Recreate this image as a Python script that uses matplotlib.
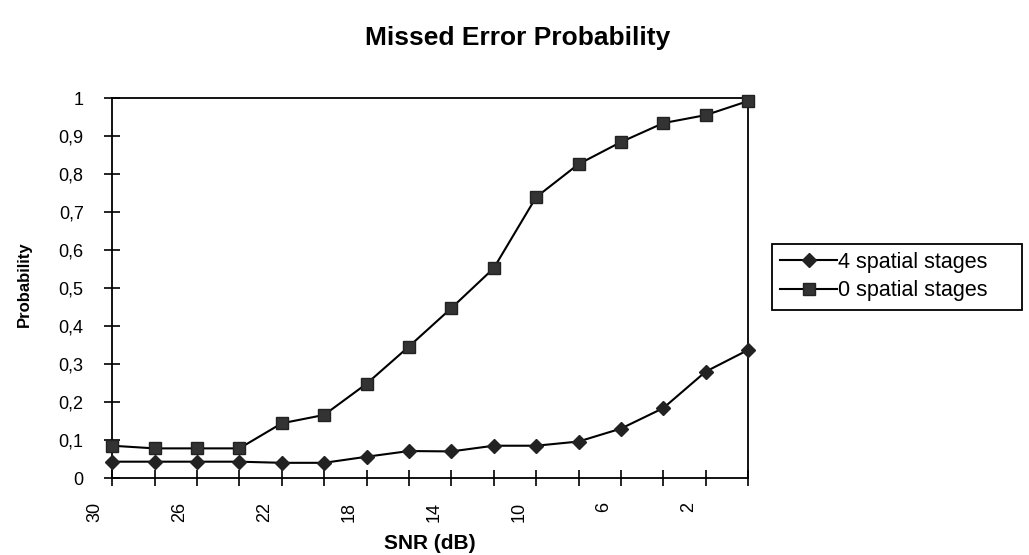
import matplotlib.pyplot as plt
import matplotlib.transforms as mtransforms
from matplotlib.patches import Rectangle
import numpy as np

plt.rcParams['font.family'] = ['Liberation Sans', 'DejaVu Sans']

# SNR in dB
snr = [30, 28, 26, 24, 22, 20, 18, 16, 14, 12, 10, 8, 6, 4, 2, 0]
snr_labels = ['30', '', '26', '', '22', '', '18', '', '14', '', '10', '', '6', '', '2', '']

# missed error probability per configuration
p_4_stages = [0.043, 0.043, 0.043, 0.043, 0.040, 0.040, 0.056, 0.071,
              0.070, 0.085, 0.085, 0.096, 0.130, 0.184, 0.280, 0.337]
p_0_stages = [0.085, 0.078, 0.078, 0.078, 0.144, 0.166, 0.248, 0.346,
              0.447, 0.552, 0.739, 0.826, 0.884, 0.934, 0.955, 0.992]

y_ticks = np.round(np.arange(0, 1.01, 0.1), 1)
y_labels = ['0' if v == 0 else ('1' if v == 1 else f'{v:.1f}'.replace('.', ',')) for v in y_ticks]

fig = plt.figure(figsize=(10.29, 5.55), dpi=100)
ax = fig.add_axes([0.109, 0.1387, 0.618, 0.6847])

ax.plot(snr, p_4_stages, color='black', lw=1.5, marker='D', ms=7,
        mfc='#222222', mec='#222222', label='4 spatial stages', clip_on=False, zorder=3)
ax.plot(snr, p_0_stages, color='black', lw=1.5, marker='s', ms=8,
        mfc='#333333', mec='#222222', label='0 spatial stages', clip_on=False, zorder=3)

ax.set_xlim(30, 0)
ax.set_ylim(0, 1)
ax.set_xticks(snr)
ax.set_xticklabels(snr_labels, rotation=90, fontsize=13)
ax.set_yticks(y_ticks)
ax.set_yticklabels(y_labels, fontsize=13)
ax.tick_params(axis='both', direction='inout', length=11, width=1.2, color='black')
ax.tick_params(axis='x', pad=12)
ax.tick_params(axis='y', pad=15)

# labels in the scan sit a little left of their ticks
offset = mtransforms.ScaledTranslation(-0.17, 0, fig.dpi_scale_trans)
for lbl in ax.get_xticklabels():
    lbl.set_transform(lbl.get_transform() + offset)

for sp in ax.spines.values():
    sp.set_linewidth(1.3)
    sp.set_color('black')

ax.set_xlabel('SNR (dB)', fontsize=15, fontweight='bold')
ax.xaxis.set_label_coords(0.5, -0.148)
ax.set_ylabel('Probability', fontsize=12, fontweight='bold')
ax.yaxis.set_label_coords(-0.126, 0.51)

fig.text(0.503, 0.932, 'Missed Error Probability', ha='center', va='center',
         fontsize=19, fontweight='bold')

# legend box drawn separately: the Excel box has extra room on the right
fig.patches.append(Rectangle((772 / 1029, 1 - 310 / 555), 250 / 1029, 66 / 555,
                             transform=fig.transFigure, fill=False,
                             edgecolor='black', linewidth=1.3))
leg = fig.legend(loc='upper left', bbox_to_anchor=(780 / 1029, 1 - 252 / 555),
                 fontsize=15.5, frameon=False, handlelength=2.65, borderpad=0,
                 borderaxespad=0, labelspacing=0.34, handletextpad=0.05)

fig.savefig('out.png', dpi=100)
